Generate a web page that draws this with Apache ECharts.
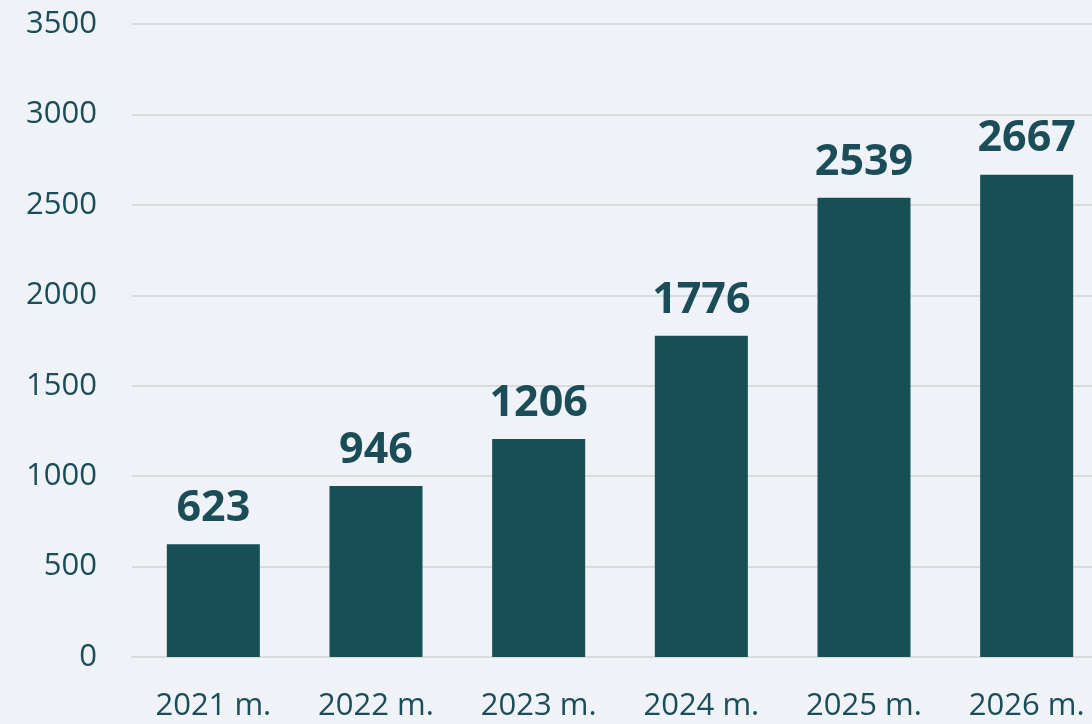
<!DOCTYPE html>
<html>
<head>
<meta charset="utf-8">
<script src="https://cdn.jsdelivr.net/npm/echarts@6/dist/echarts.min.js"></script>
<style>
  html, body { margin: 0; padding: 0; background: #eff3f7; }
  #chart { width: 1092px; height: 724px; }
</style>
</head>
<body>
<div id="chart"></div>
<script>
var categories = ["2021 m.", "2022 m.", "2023 m.", "2024 m.", "2025 m.", "2026 m."];
var values = [623, 946, 1206, 1776, 2539, 2667];

var textColor = "#1a4d57";
var chart = echarts.init(document.getElementById("chart"));
chart.setOption({
  backgroundColor: "#eff3f7",
  animation: false,
  grid: { left: 132, right: -16, top: 24, bottom: 67, outerBoundsMode: "none", containLabel: false },
  xAxis: {
    type: "category",
    data: categories,
    axisLine: { show: true, lineStyle: { color: "#d9dcdf", width: 2 } },
    axisTick: { show: false },
    axisLabel: { color: textColor, fontSize: 31, fontFamily: "Open Sans", margin: 34 }
  },
  yAxis: {
    type: "value",
    min: 0,
    max: 3500,
    interval: 500,
    axisLine: { show: false },
    axisTick: { show: false },
    splitLine: { lineStyle: { color: "#d9dcdf", width: 2 } },
    axisLabel: {
      color: textColor, fontSize: 31, fontFamily: "Open Sans", margin: 35,
      formatter: function (v) { return String(v); }
    }
  },
  series: [{
    type: "bar",
    data: values,
    barWidth: 93,
    itemStyle: { color: "#174f57" },
    label: {
      show: true,
      position: "top",
      distance: 14,
      color: textColor,
      fontSize: 43,
      fontWeight: "bold",
      fontFamily: "Open Sans"
    }
  }]
});
</script>
</body>
</html>
